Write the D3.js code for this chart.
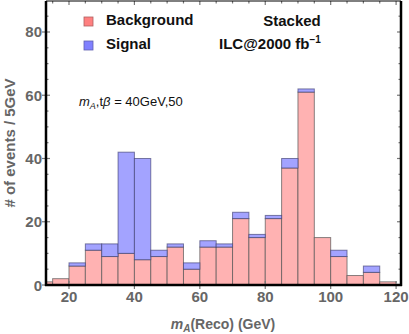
<!DOCTYPE html>
<html>
<head>
<meta charset="utf-8">
<script src="https://cdn.jsdelivr.net/npm/d3@7"></script>
<style>
  body { margin: 0; background: #fff; }
  svg { display: block; font-family: "Liberation Sans", Arial, sans-serif; }
</style>
</head>
<body>
<div id="chart"></div>
<script>
// bin left edges (5 GeV bins)
const binStarts = [10, 15, 20, 25, 30, 35, 40, 45, 50, 55, 60, 65, 70, 75, 80, 85, 90, 95, 100, 105, 110, 115];
const background = [1, 2, 6, 11, 9, 10, 8, 9, 12, 5, 12, 12, 21, 15, 21, 37, 61, 15, 9, 3, 4, 1];
const signal =     [0, 0, 1, 2, 4, 32, 32, 2, 1, 2, 2, 1, 2, 1, 1, 3, 1, 0, 2, 0, 2, 0];
const xTicks = [20, 40, 60, 80, 100, 120];
const yTicks = [0, 20, 40, 60, 80];

const width = 409, height = 334;
const plot = {left: 46, right: 401, top: 1, bottom: 285};

const svg = d3.select("#chart").append("svg")
    .attr("width", width).attr("height", height);

const x = d3.scaleLinear().domain([12.97, 121.5]).range([plot.left, plot.right]);
const y = d3.scaleLinear().domain([0, 89.8]).range([plot.bottom, plot.top]);

svg.append("defs").append("clipPath").attr("id", "clip")
    .append("rect")
    .attr("x", plot.left).attr("y", plot.top)
    .attr("width", plot.right - plot.left).attr("height", plot.bottom - plot.top);

const bins = binStarts.map((s, i) => ({x0: s, x1: s + 5, bg: background[i], sig: signal[i]}));

const bars = svg.append("g").attr("clip-path", "url(#clip)");

// background (bottom of stack)
bars.selectAll("rect.bg")
    .data(bins)
    .join("rect")
    .attr("class", "bg")
    .attr("x", d => x(d.x0))
    .attr("width", d => x(d.x1) - x(d.x0))
    .attr("y", d => y(d.bg))
    .attr("height", d => y(0) - y(d.bg))
    .attr("fill", "#ffb2b2")
    .attr("stroke", "#555")
    .attr("stroke-opacity", 0.7)
    .attr("stroke-width", 1);

// signal stacked on top
bars.selectAll("rect.sig")
    .data(bins.filter(d => d.sig > 0))
    .join("rect")
    .attr("class", "sig")
    .attr("x", d => x(d.x0))
    .attr("width", d => x(d.x1) - x(d.x0))
    .attr("y", d => y(d.bg + d.sig))
    .attr("height", d => y(d.bg) - y(d.bg + d.sig))
    .attr("fill", "#a3a3ff")
    .attr("stroke", "#333366")
    .attr("stroke-opacity", 0.6)
    .attr("stroke-width", 1);

// minor ticks
const tickCol = "#777";
const xMinor = d3.range(15, 121, 5);
const yMinor = d3.range(0, 90, 5);
const ticks = svg.append("g").attr("stroke", tickCol).attr("stroke-width", 1.2);
ticks.selectAll("line.xb").data(xMinor).join("line")
    .attr("x1", d => x(d)).attr("x2", d => x(d))
    .attr("y1", plot.bottom - 2).attr("y2", d => plot.bottom - (d % 20 === 0 ? 4 : 2));
ticks.selectAll("line.xt").data(xMinor).join("line")
    .attr("x1", d => x(d)).attr("x2", d => x(d))
    .attr("y1", plot.top).attr("y2", d => plot.top + (d % 20 === 0 ? 4 : 2.5));
ticks.selectAll("line.yl").data(yMinor).join("line")
    .attr("y1", d => y(d)).attr("y2", d => y(d))
    .attr("x1", plot.left).attr("x2", d => plot.left + (d % 20 === 0 ? 4 : 2.5));
ticks.selectAll("line.yr").data(yMinor).join("line")
    .attr("y1", d => y(d)).attr("y2", d => y(d))
    .attr("x1", plot.right).attr("x2", d => plot.right - (d % 20 === 0 ? 4 : 2.5));

// major ticks outward on left
ticks.selectAll("line.ylo").data(yTicks).join("line")
    .attr("y1", d => y(d)).attr("y2", d => y(d))
    .attr("x1", plot.left - 4).attr("x2", plot.left);
ticks.selectAll("line.xbo").data(xTicks).join("line")
    .attr("x1", d => x(d)).attr("x2", d => x(d))
    .attr("y1", plot.bottom).attr("y2", plot.bottom + 4);

// frame
svg.append("line").attr("x1", plot.left).attr("x2", plot.right)
    .attr("y1", plot.top).attr("y2", plot.top)
    .attr("stroke", "#000").attr("stroke-width", 1);
svg.append("line").attr("x1", plot.left).attr("x2", plot.left)
    .attr("y1", plot.top).attr("y2", plot.bottom + 1)
    .attr("stroke", "#000").attr("stroke-width", 2.5);
svg.append("line").attr("x1", plot.right).attr("x2", plot.right)
    .attr("y1", plot.top).attr("y2", plot.bottom + 1)
    .attr("stroke", "#000").attr("stroke-width", 2.5);
svg.append("line").attr("x1", plot.left - 1).attr("x2", plot.right + 1)
    .attr("y1", plot.bottom).attr("y2", plot.bottom)
    .attr("stroke", "#000").attr("stroke-width", 2.5);

// tick labels
const labCol = "#666";
svg.append("g").selectAll("text").data(xTicks).join("text")
    .attr("x", d => x(d)).attr("y", 302)
    .attr("text-anchor", "middle")
    .attr("fill", labCol).attr("font-weight", "bold").attr("font-size", 15)
    .text(d => d);
svg.append("g").selectAll("text").data(yTicks).join("text")
    .attr("x", 42).attr("y", d => y(d) + 5.5)
    .attr("text-anchor", "end")
    .attr("fill", labCol).attr("font-weight", "bold").attr("font-size", 15)
    .text(d => d);

// axis titles
const xl = svg.append("text")
    .attr("x", 223).attr("y", 329)
    .attr("text-anchor", "middle")
    .attr("fill", labCol).attr("font-weight", "bold").attr("font-size", 14);
xl.append("tspan").attr("font-style", "italic").text("m");
xl.append("tspan").attr("font-style", "italic").attr("font-size", 10).attr("dy", 3).text("A");
xl.append("tspan").attr("dy", -3).text("(Reco) (GeV)");

svg.append("text")
    .attr("transform", `translate(15,${(plot.top + plot.bottom) / 2}) rotate(-90)`)
    .attr("text-anchor", "middle")
    .attr("fill", labCol).attr("font-weight", "bold").attr("font-size", 15)
    .text("# of events / 5GeV");

// legend
const legend = [
    {name: "Background", fill: "#ff8080", stroke: "#b06060", y: 25},
    {name: "Signal", fill: "#8080ff", stroke: "#6060b0", y: 49}
];
const lg = svg.append("g").selectAll("g").data(legend).join("g");
lg.append("rect")
    .attr("x", 84).attr("y", d => d.y - 8)
    .attr("width", 9).attr("height", 9)
    .attr("fill", d => d.fill).attr("stroke", d => d.stroke).attr("stroke-width", 0.8);
lg.append("text")
    .attr("x", 106).attr("y", d => d.y)
    .attr("font-weight", "bold").attr("font-size", 15).attr("fill", "#111")
    .text(d => d.name);

svg.append("text")
    .attr("x", 292).attr("y", 26)
    .attr("text-anchor", "middle")
    .attr("font-weight", "bold").attr("font-size", 15).attr("fill", "#111")
    .text("Stacked");
const ilc = svg.append("text")
    .attr("x", 219).attr("y", 49)
    .attr("font-weight", "bold").attr("font-size", 15).attr("fill", "#111");
ilc.append("tspan").text("ILC@2000 fb");
ilc.append("tspan").attr("font-size", 10).attr("dy", -6).text("\u22121");

// parameter annotation
const ann = svg.append("text")
    .attr("x", 79).attr("y", 106)
    .attr("font-size", 13).attr("fill", "#111");
ann.append("tspan").attr("font-style", "italic").text("m");
ann.append("tspan").attr("font-style", "italic").attr("font-size", 9).attr("dy", 3).text("A");
ann.append("tspan").attr("dy", -3).text(",t");
ann.append("tspan").attr("font-style", "italic").text("\u03b2");
ann.append("tspan").text(" = 40GeV,50");
</script>
</body>
</html>
